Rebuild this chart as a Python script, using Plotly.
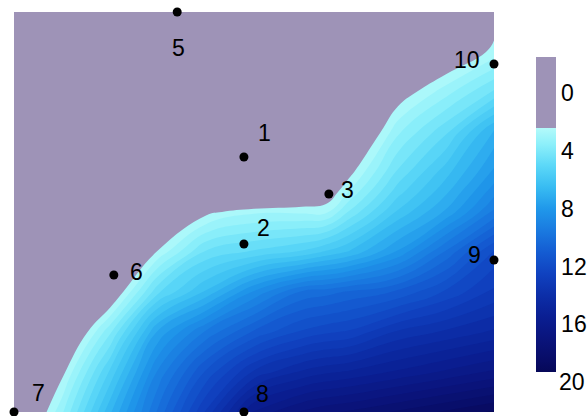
import plotly.graph_objects as go

# ---------------- data ----------------
grid_x = [0.0, 0.1, 0.2, 0.3, 0.4, 0.5, 0.6, 0.65, 0.7, 0.8, 0.9, 1.0]
grid_y = [0.0, 0.1, 0.2, 0.3, 0.4, 0.5, 0.55, 0.6, 0.7, 0.8, 0.9, 1.0]

z_y000 = [0.5, 3.3, 6.8, 10.0, 13.0, 16.0, 17.0, 17.3, 17.5, 18.0, 18.5, 19.0]
z_y010 = [-0.6, 2.2, 5.5, 9.0, 11.5, 13.5, 14.5, 14.8, 15.0, 15.5, 16.0, 16.5]
z_y020 = [-1.5, 0.8, 3.8, 7.5, 9.5, 11.0, 12.0, 12.3, 12.5, 13.5, 14.0, 14.5]
z_y030 = [-2.0, -0.5, 1.5, 4.8, 6.5, 8.5, 10.0, 10.2, 10.5, 11.0, 12.0, 13.0]
z_y040 = [-2.5, -1.5, 0.0, 2.5, 4.5, 5.0, 5.5, 6.0, 6.5, 8.0, 10.0, 12.0]
z_y050 = [-3.0, -2.5, -1.5, -0.5, 2.2, 2.8, 2.8, 2.8, 4.0, 6.0, 7.5, 9.5]
z_y055 = [-3.5, -3.0, -2.2, -1.5, -0.5, 0.3, 1.3, 1.8, 3.0, 5.2, 6.8, 8.7]
z_y060 = [-4.0, -3.5, -3.0, -2.5, -2.2, -2.2, -0.3, 0.5, 2.2, 4.5, 6.2, 8.0]
z_y070 = [-4.5, -4.0, -3.5, -3.0, -3.0, -3.0, -2.0, -0.6, 0.8, 3.3, 4.8, 7.0]
z_y080 = [-5.0, -4.5, -4.0, -3.5, -3.5, -3.5, -3.0, -2.0, -1.0, 1.9, 3.2, 4.5]
z_y090 = [-5.5, -5.0, -4.5, -4.0, -4.0, -4.0, -3.5, -2.8, -2.0, -0.5, 1.4, 2.6]
z_y100 = [-6.0, -5.5, -5.0, -4.5, -4.5, -4.5, -4.0, -3.5, -3.0, -1.5, 0.0, 1.9]

point_labels = ["1", "2", "3", "5", "6", "7", "8", "9", "10"]
point_x = [0.479, 0.479, 0.656, 0.340, 0.208, 0.0, 0.479, 1.0, 1.0]
point_y = [0.6375, 0.42, 0.545, 1.0, 0.3425, 0.0, 0.0, 0.38, 0.87]

cbar_tick_vals = [0, 4, 8, 12, 16]
cbar_tick_text = ["0", "4", "8", "12", "16"]
cbar_last_label = "20"

# ---------------- style ----------------
GREY = "#9e93b7"
blue_vals = [2.4, 3.5, 5.0, 6.5, 8.0, 9.5, 11.0, 12.5, 14.0, 15.5, 17.0, 18.5, 19.3]
blue_cols = ["#b4fafa", "#8ef0fa", "#5cd8f8", "#38bcf2", "#2098ea", "#1a7ae0",
             "#145cd2", "#1042c0", "#0c2ea8", "#0a1e92", "#0a147c", "#080c66", "#060858"]
label_dx = [21, 20, 19, 1, 23, 24, 19, -20, -27]
label_dy = [-24, -16, -4, 36, -3, -19, -18, -5, -4]
FONT = dict(family="Liberation Sans, Arial", size=23, color="black")
CB_FONT = dict(family="Liberation Sans, Arial", size=23, color="black")

FIG_W, FIG_H = 587, 416
PL, PT, PW, PH = 14, 12, 480, 400

start, size, end = 2.4, 0.5, 18.9
nc = int(round((end - start) / size)) + 1
lo = start - size / 2
hi = lo + nc * size


def f_contour(v):
    return min(1.0, max(0.0, (v - lo) / (hi - lo)))


cs_contour = [[0.0, GREY], [f_contour(2.4) - 1e-4, GREY]]
for v, c in zip(blue_vals, blue_cols):
    fv = f_contour(v)
    if fv > cs_contour[-1][0]:
        cs_contour.append([fv, c])
if cs_contour[-1][0] < 1.0:
    cs_contour.append([1.0, blue_cols[-1]])

# colour bar with values increasing downward (0 at top): bar carries negated values
vmin, vmax = -2.5, 19.3
bmin, bmax = -vmax, -vmin


def f_bar(v):
    return (-v - bmin) / (bmax - bmin)


stops = [[f_bar(v), c] for v, c in zip(blue_vals, blue_cols)]
stops.sort(key=lambda s: s[0])
cs_bar = stops + [[f_bar(2.4) + 1e-4, GREY], [1.0, GREY]]

z = [z_y000, z_y010, z_y020, z_y030, z_y040, z_y050, z_y055,
     z_y060, z_y070, z_y080, z_y090, z_y100]


def px_to_paper_x(px):
    return (px - PL) / PW


def px_to_paper_y(py):
    return (PT + PH - py) / PH


fig = go.Figure()
fig.add_trace(go.Contour(
    x=grid_x, y=grid_y, z=z,
    contours=dict(start=start, end=end, size=size, coloring="fill", showlines=False),
    line=dict(width=0, smoothing=1.3),
    colorscale=cs_contour, showscale=False, hoverinfo="skip",
))

fig.add_trace(go.Scatter(
    x=[0.5], y=[0.5], mode="markers", hoverinfo="skip", showlegend=False,
    marker=dict(size=0.1, opacity=0, color=[0], cmin=bmin, cmax=bmax,
                colorscale=cs_bar, showscale=True,
                colorbar=dict(
                    x=px_to_paper_x(536), xanchor="left", xpad=0,
                    y=px_to_paper_y(214.5), yanchor="middle", ypad=0,
                    len=315, lenmode="pixels", thickness=20,
                    outlinewidth=0,
                    tickvals=[-v for v in cbar_tick_vals], ticktext=cbar_tick_text,
                    ticks="", tickfont=CB_FONT,
                )),
))

fig.add_trace(go.Scatter(
    x=point_x, y=point_y, mode="markers", cliponaxis=False, hoverinfo="skip",
    marker=dict(size=9, color="black"), showlegend=False,
))

annotations = []
for t, px, py, dx, dy in zip(point_labels, point_x, point_y, label_dx, label_dy):
    annotations.append(dict(
        x=px, y=py, xref="x", yref="y", text=t, showarrow=False,
        xshift=dx, yshift=-dy, xanchor="center", yanchor="middle", font=FONT,
    ))
annotations.append(dict(
    x=px_to_paper_x(557), y=px_to_paper_y(382), xref="paper", yref="paper",
    text=cbar_last_label, showarrow=False, xanchor="left", yanchor="middle",
    font=CB_FONT,
))

fig.update_layout(
    width=FIG_W, height=FIG_H,
    margin=dict(l=PL, r=FIG_W - PL - PW, t=PT, b=FIG_H - PT - PH, autoexpand=False),
    paper_bgcolor="white", plot_bgcolor="white",
    xaxis=dict(range=[0, 1], visible=False, showgrid=False, zeroline=False),
    yaxis=dict(range=[0, 1], visible=False, showgrid=False, zeroline=False),
    showlegend=False,
    annotations=annotations,
)

# the page body normally has an 8 px margin; remove it so the figure fills the window
fig.write_html("out.html", config={"displayModeBar": False},
               post_script="document.body.style.margin='0';")
